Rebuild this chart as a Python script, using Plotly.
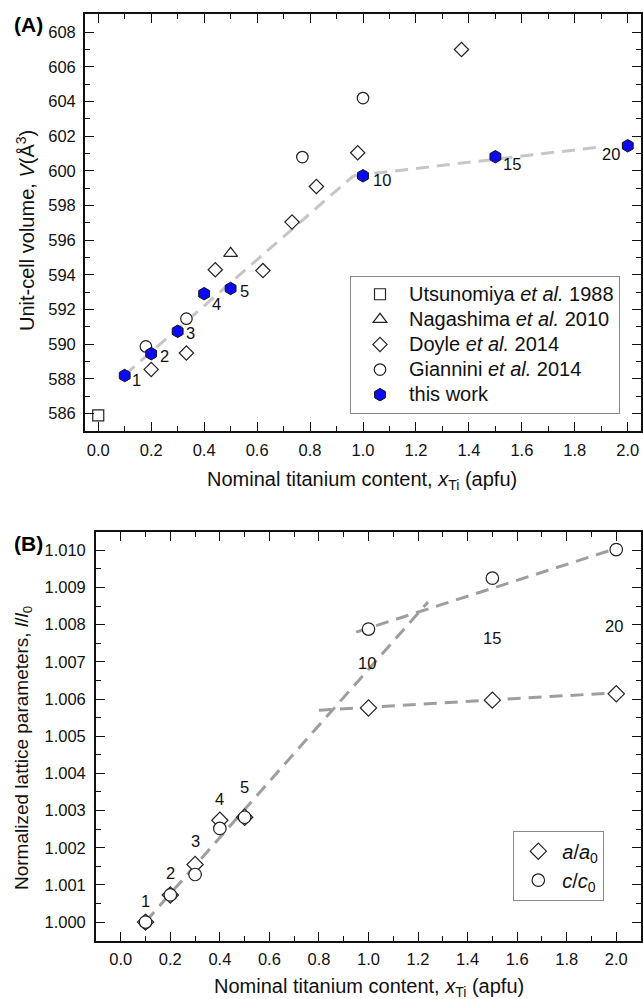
import plotly.graph_objects as go

W, H = 643, 999

# ---------------- Panel A data ----------------
utsu_x = [0.0]
utsu_v = [585.9]
naga_x = [0.5]
naga_v = [595.25]
doyle_x = [0.20, 0.333, 0.442, 0.622, 0.732, 0.824, 0.98, 1.372]
doyle_v = [588.55, 589.5, 594.3, 594.25, 597.05, 599.1, 601.05, 607.0]
gian_x = [0.18, 0.333, 0.771, 1.0]
gian_v = [589.88, 591.48, 600.8, 604.2]
tw_x = [0.1, 0.2, 0.3, 0.4, 0.5, 1.0, 1.5, 2.0]
tw_v = [588.2, 589.46, 590.75, 592.92, 593.22, 599.72, 600.82, 601.45]
tw_labels = ["1", "2", "3", "4", "5", "10", "15", "20"]

fitA1_x = [0.1, 0.964]
fitA1_v = [588.23, 599.72]
fitA2_x = [0.964, 1.90]
fitA2_v = [599.72, 601.39]

# ---------------- Panel B data ----------------
xb = [0.1, 0.2, 0.3, 0.4, 0.5, 1.0, 1.5, 2.0]
a_norm = [1.0000, 1.00073, 1.00155, 1.00274, 1.00282, 1.00576, 1.00597, 1.00614]
c_norm = [1.0000, 1.00073, 1.00128, 1.00252, 1.00282, 1.00788, 1.00925, 1.01002]
b_labels = ["1", "2", "3", "4", "5", "10", "15", "20"]

fitB1_x = [0.1, 1.24]
fitB1_y = [1.00001, 1.00861]
fitBa_x = [0.8, 2.0]
fitBa_y = [1.00570, 1.00617]
fitBc_x = [0.95, 2.0]
fitBc_y = [1.00780, 1.01005]

legendA_names = ["Utsunomiya <i>et al.</i> 1988", "Nagashima <i>et al.</i> 2010",
                 "Doyle <i>et al.</i> 2014", "Giannini <i>et al.</i> 2014", "this work"]
legendB_names = ["<i>a</i>/<i>a</i><sub>0</sub>", "<i>c</i>/<i>c</i><sub>0</sub>"]

FONT = "Liberation Sans, Arial, sans-serif"
TXT = "#111"


def big(s):
    return "<span style='font-size:20px'>" + s + "</span>"


fig = go.Figure()

dashA = dict(color="#c6c6c6", width=3, dash="13px,8px")
dashB = dict(color="#9e9e9e", width=3, dash="13px,8px")

# panel A lines
for xs, ys in [(fitA1_x, fitA1_v), (fitA2_x, fitA2_v)]:
    fig.add_trace(go.Scatter(x=xs, y=ys, mode="lines", line=dashA, showlegend=False,
                             xaxis="x", yaxis="y", hoverinfo="skip"))

open_mk = dict(color="white", line=dict(color="#222", width=1.2))
fig.add_trace(go.Scatter(x=utsu_x, y=utsu_v, mode="markers", name=big(legendA_names[0]),
                         marker=dict(symbol="square", size=11, **open_mk), xaxis="x", yaxis="y", legend="legend"))
fig.add_trace(go.Scatter(x=naga_x, y=naga_v, mode="markers", name=big(legendA_names[1]),
                         marker=dict(symbol="triangle-up", size=12, **open_mk), xaxis="x", yaxis="y", legend="legend"))
fig.add_trace(go.Scatter(x=doyle_x, y=doyle_v, mode="markers", name=big(legendA_names[2]),
                         marker=dict(symbol="diamond", size=11, **open_mk), xaxis="x", yaxis="y", legend="legend"))
fig.add_trace(go.Scatter(x=gian_x, y=gian_v, mode="markers", name=big(legendA_names[3]),
                         marker=dict(symbol="circle", size=11.5, **open_mk), xaxis="x", yaxis="y", legend="legend"))
fig.add_trace(go.Scatter(x=tw_x, y=tw_v, mode="markers", name=big(legendA_names[4]),
                         marker=dict(symbol="hexagon", size=12.5, color="#0a0af5", line=dict(color="#111", width=1)),
                         xaxis="x", yaxis="y", legend="legend"))

# panel B lines
for xs, ys in [(fitB1_x, fitB1_y), (fitBa_x, fitBa_y), (fitBc_x, fitBc_y)]:
    fig.add_trace(go.Scatter(x=xs, y=ys, mode="lines", line=dashB, showlegend=False,
                             xaxis="x2", yaxis="y2", hoverinfo="skip"))

fig.add_trace(go.Scatter(x=xb, y=a_norm, mode="markers", name=legendB_names[0],
                         marker=dict(symbol="diamond", size=12.5, **open_mk), xaxis="x2", yaxis="y2", legend="legend2"))
fig.add_trace(go.Scatter(x=xb, y=c_norm, mode="markers", name=legendB_names[1],
                         marker=dict(symbol="circle", size=12.5, **open_mk), xaxis="x2", yaxis="y2", legend="legend2"))

annotations = []
# labels panel A (pixel offsets from markers)
offA = [(12, -4), (13, -2), (13, -2), (12, -10), (14, -3), (19, -4), (17, -7), (-17, -8)]
for xv, yv, t, (dx, dy) in zip(tw_x, tw_v, tw_labels, offA):
    annotations.append(dict(x=xv, y=yv, xref="x", yref="y", text=t, showarrow=False,
                            xshift=dx, yshift=dy, font=dict(size=16.5, color=TXT, family=FONT)))
# labels panel B (pixel offsets above a/a0 markers)
offB = [(0, 21), (0, 22), (0, 23), (0, 21), (0, 30), (-2, 45), (0, 62), (-2, 68)]
for xv, yv, t, (dx, dy) in zip(xb, a_norm, b_labels, offB):
    annotations.append(dict(x=xv, y=yv, xref="x2", yref="y2", text=t, showarrow=False,
                            xshift=dx, yshift=dy, font=dict(size=16.5, color=TXT, family=FONT)))


def px(x):
    return x / W


def py(y):
    return 1 - y / H


xtitle = "Nominal titanium content, <i>x</i><sub>Ti</sub> (apfu)"
annotations += [
    dict(x=px(362), y=py(481), xref="paper", yref="paper", text=xtitle, showarrow=False,
         font=dict(size=20, family=FONT, color=TXT), xanchor="center", yanchor="middle"),
    dict(x=px(369), y=py(987), xref="paper", yref="paper", text=xtitle, showarrow=False,
         font=dict(size=20, family=FONT, color=TXT), xanchor="center", yanchor="middle"),
    dict(x=px(25), y=py(231), xref="paper", yref="paper", text="Unit-cell volume, <i>V</i>(Å<sup>3</sup>)",
         showarrow=False, textangle=-90, font=dict(size=20, family=FONT, color=TXT),
         xanchor="center", yanchor="middle"),
    dict(x=px(23), y=py(748), xref="paper", yref="paper",
         text="Normalized lattice parameters, <i>l</i>/<i>l</i><sub>0</sub>",
         showarrow=False, textangle=-90, font=dict(size=19, family=FONT, color=TXT),
         xanchor="center", yanchor="middle"),
    dict(x=px(28), y=py(25), xref="paper", yref="paper", text="<b>(A)</b>", showarrow=False,
         font=dict(size=21, family=FONT, color="#000"), xanchor="center", yanchor="middle"),
    dict(x=px(28), y=py(543), xref="paper", yref="paper", text="<b>(B)</b>", showarrow=False,
         font=dict(size=21, family=FONT, color="#000"), xanchor="center", yanchor="middle"),
]


def axis(domain, rng, dtick, mdtick, fmt, anchor, standoff):
    return dict(domain=domain, range=rng, tickmode="linear", tick0=0, dtick=dtick, tickformat=fmt,
                ticks="inside", ticklen=9, tickwidth=1.3, tickcolor="#111",
                minor=dict(dtick=mdtick, ticks="inside", ticklen=5, tickwidth=1.3, tickcolor="#111"),
                showline=True, linecolor="#111", linewidth=1.8, mirror="ticks",
                showgrid=False, zeroline=False, anchor=anchor, ticklabelstandoff=standoff,
                tickfont=dict(size=16.5, family=FONT, color=TXT))


fig.update_layout(
    width=W, height=H, margin=dict(l=0, r=0, t=0, b=0),
    plot_bgcolor="white", paper_bgcolor="white",
    font=dict(family=FONT, color=TXT),
    xaxis=axis([px(85), px(641)], [-0.05, 2.05], 0.2, 0.1, ".1f", "y", 3),
    yaxis=axis([py(431), py(14)], [585.0, 609.05], 2, 1, "d", "x", 4),
    xaxis2=axis([px(96), px(641)], [-0.1, 2.1], 0.2, 0.1, ".1f", "y2", 3),
    yaxis2=axis([py(940.7), py(531.7)], [0.9995, 1.0105], 0.001, 0.0005, ".3f", "x2", 5),
    legend=dict(x=px(350), y=py(275.7), xanchor="left", yanchor="top", bordercolor="#888", borderwidth=1,
                bgcolor="white", font=dict(size=17, family=FONT, color=TXT), itemwidth=48,
                tracegroupgap=0),
    legend2=dict(x=px(513.3), y=py(830.7), xanchor="left", yanchor="top", bordercolor="#888", borderwidth=1,
                 bgcolor="white", font=dict(size=20, family=FONT, color=TXT), itemwidth=38,
                 tracegroupgap=0),
    annotations=annotations,
    showlegend=True,
)

fig.write_html("out.html", config={"displayModeBar": False},
               post_script="document.body.style.margin='0px';document.body.style.overflow='hidden';")
